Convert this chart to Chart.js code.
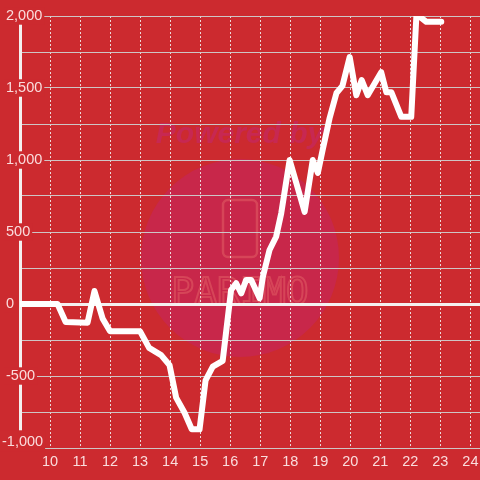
<!DOCTYPE html>
<html><head><meta charset="utf-8">
<script src="https://cdn.jsdelivr.net/npm/chart.js@4"></script>
<style>html,body{margin:0;padding:0;background:#cc2a2f;} canvas{display:block}</style>
</head><body>
<canvas id="c" width="480" height="480"></canvas>
<script>
// ---- data ----
const hours = [9, 10.25, 10.52, 11.25, 11.48, 11.75, 12.0, 13.0, 13.3, 13.7, 13.98, 14.2, 14.48, 14.72, 14.98, 15.18, 15.42, 15.75, 16.03, 16.2, 16.37, 16.53, 16.7, 16.98, 17.09, 17.31, 17.53, 17.7, 17.98, 18.48, 18.75, 18.92, 19.08, 19.31, 19.54, 19.74, 19.98, 20.2, 20.38, 20.58, 21.03, 21.2, 21.37, 21.7, 22.03, 22.2, 22.31, 22.53, 23.03];
const balance = [0, 0, -125, -130, 90, -100, -190, -190, -305, -355, -425, -650, -755, -870, -870, -530, -435, -395, 97, 144, 74, 167, 167, 40, 190, 375, 467, 630, 1000, 640, 1000, 910, 1070, 1290, 1465, 1515, 1715, 1450, 1555, 1450, 1610, 1470, 1470, 1300, 1300, 1995, 1995, 1960, 1960];
const xTickLabels = ['10','11','12','13','14','15','16','17','18','19','20','21','22','23','24'];
const yTickValues = [-1000, -500, 0, 500, 1000, 1500, 2000];
const yTickLabels = ['-1,000', '-500', '0', '500', '1,000', '1,500', '2,000'];

const BG = '#cc2a2f';
const LABEL = 'rgba(255,240,240,0.9)';
const FONT = {family: '"Liberation Sans", Arial, sans-serif', size: 14.5};

const bgPlugin = {
  id: 'bg',
  beforeDraw(chart) {
    const {ctx, width, height, chartArea: a} = chart;
    ctx.save();
    ctx.fillStyle = BG;
    ctx.fillRect(0, 0, width, height);
    // watermark
    const cx = a.left + 220, cy = a.top + 242;
    ctx.beginPath();
    ctx.arc(cx, cy, 99, 0, Math.PI * 2);
    ctx.fillStyle = '#c8274a';
    ctx.fill();
    ctx.font = 'italic bold 30px "Liberation Sans", Arial, sans-serif';
    ctx.fillStyle = 'rgba(198,40,84,0.95)';
    ctx.textAlign = 'center';
    ctx.textBaseline = 'alphabetic';
    ctx.fillText('Powered by', cx, cy - 115);
    ctx.strokeStyle = 'rgba(225,95,100,0.55)';
    ctx.lineWidth = 2.5;
    ctx.beginPath();
    if (ctx.roundRect) ctx.roundRect(cx - 17, cy - 58, 34, 57, 5); else ctx.rect(cx - 17, cy - 58, 34, 57);
    ctx.stroke();
    ctx.font = '38px "DejaVu Sans Mono", monospace';
    ctx.lineWidth = 2;
    ctx.strokeText('PARIMO', cx, cy + 46);
    ctx.restore();
  }
};

const yLabel = (v, only) => {
  const i = yTickValues.indexOf(v);
  if (i < 0) return '';
  if (only !== undefined) return v === only ? yTickLabels[i] : '';
  return v === -1000 ? '' : yTickLabels[i];
};

new Chart(document.getElementById('c'), {
  type: 'line',
  data: {
    datasets: [{
      data: hours.map((h, i) => ({x: h, y: balance[i]})),
      borderColor: '#ffffff',
      borderWidth: 6,
      pointRadius: 0,
      tension: 0,
      borderJoinStyle: 'round',
      borderCapStyle: 'round',
      fill: false
    }]
  },
  options: {
    responsive: false,
    animation: false,
    events: [],
    layout: {padding: {top: 16, bottom: 0, left: 0, right: 0}},
    plugins: {legend: {display: false}, tooltip: {enabled: false}},
    scales: {
      x: {
        type: 'linear',
        min: 9,
        max: 24.32,
        ticks: {
          stepSize: 1,
          includeBounds: false,
          autoSkip: false,
          maxRotation: 0,
          padding: 5,
          color: LABEL,
          font: FONT,
          callback: (v) => { const i = xTickLabels.indexOf(String(v)); return i >= 0 ? xTickLabels[i] : ''; }
        },
        grid: {
          drawTicks: false,
          color: (c) => (c.tick && c.tick.value === 9) ? 'rgba(0,0,0,0)' : 'rgba(240,235,235,0.9)',
          lineWidth: 1
        },
        border: {display: false, dash: [2, 2]},
        afterFit: (s) => { s.height = 32; s.paddingLeft = 0; s.paddingRight = 0; }
      },
      y: {
        type: 'linear',
        weight: 0,
        min: -1000,
        max: 2000,
        ticks: {
          stepSize: 250,
          autoSkip: false,
          mirror: true,
          crossAlign: 'near',
          padding: -14,
          color: LABEL,
          font: FONT,
          showLabelBackdrop: (c) => c.tick && c.tick.value !== -1000 && yTickValues.includes(c.tick.value),
          backdropColor: BG,
          backdropPadding: {top: 0, bottom: 0, left: 2, right: 2},
          callback: (v) => yLabel(v)
        },
        grid: {
          drawTicks: false,
          color: (c) => (c.tick && c.tick.value === 0) ? '#f4f0f0' : 'rgba(205,205,205,0.95)',
          lineWidth: (c) => (c.tick && c.tick.value === 0) ? 3 : 1
        },
        border: {display: true, color: '#f4f0f0', width: 3},
        afterFit: (s) => { s.width = 20; s.paddingTop = 0; s.paddingBottom = 0; }
      },
      y2: {
        type: 'linear',
        position: 'left',
        weight: 1,
        min: -1000,
        max: 2000,
        ticks: {
          stepSize: 250,
          autoSkip: false,
          mirror: true,
          crossAlign: 'near',
          padding: 2,
          labelOffset: -6,
          z: 1,
          color: LABEL,
          font: FONT,
          showLabelBackdrop: (c) => c.tick && c.tick.value === -1000,
          backdropColor: BG,
          backdropPadding: {top: 3, bottom: 1, left: 2, right: 2},
          callback: (v) => yLabel(v, -1000)
        },
        grid: {display: false, drawTicks: false},
        border: {display: false},
        afterFit: (s) => { s.width = 0; s.paddingTop = 0; s.paddingBottom = 0; }
      }
    }
  },
  plugins: [bgPlugin]
});
</script>
</body></html>
